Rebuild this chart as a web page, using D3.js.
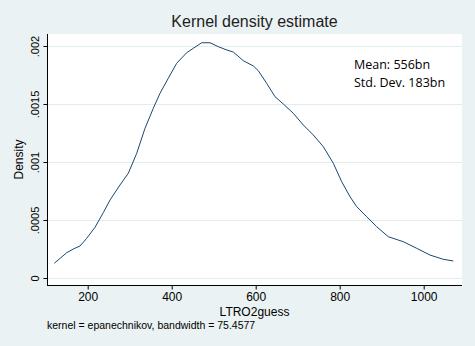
<!DOCTYPE html>
<html>
<head>
<meta charset="utf-8">
<script src="https://cdn.jsdelivr.net/npm/d3@7"></script>
<style>
  html, body { margin: 0; padding: 0; background: #eaf2f3; }
  svg { display: block; }
</style>
</head>
<body>
<svg id="chart" width="475" height="346"></svg>
<script>
// ---- data ----
const densityX = [120.5, 150, 165.7, 181.7, 197.6, 217.4, 237.1, 253.1, 276.9, 296.7, 316.7, 336.4, 356.2, 372.1, 391.9, 411.9, 435.7, 451.4, 471.4, 491.2, 511, 530.9, 546.7, 570.5, 594.3, 606.2, 626.2, 646, 665.7, 689.5, 713.3, 737.1, 761, 784.8, 804.8, 824.5, 840.5, 864.3, 888.1, 915.7, 951.4, 983.3, 1015, 1046.7, 1070.5];
const densityY = [0.000127, 0.000218, 0.00025, 0.000276, 0.000342, 0.000437, 0.000563, 0.000672, 0.000802, 0.000903, 0.001075, 0.00129, 0.001463, 0.001592, 0.001722, 0.001851, 0.001942, 0.00198, 0.002028, 0.002028, 0.001994, 0.001966, 0.001948, 0.001873, 0.001828, 0.001787, 0.001678, 0.001563, 0.0015, 0.00142, 0.001319, 0.001233, 0.001132, 0.000989, 0.00083, 0.000701, 0.000615, 0.000528, 0.000442, 0.000356, 0.000313, 0.000256, 0.000198, 0.000161, 0.000147];
const xTicks = [200, 400, 600, 800, 1000];
const yTicks = [0, 0.0005, 0.001, 0.0015, 0.002];
const yTickLabels = ["0", ".0005", ".001", ".0015", ".002"];
const titleText = "Kernel density estimate";
const xTitle = "LTRO2guess";
const yTitle = "Density";
const noteText = "kernel = epanechnikov, bandwidth = 75.4577";
const annotations = ["Mean: 556bn", "Std. Dev. 183bn"];

// ---- layout ----
const W = 475, H = 346;
const pL = 47, pR = 462, pT = 34, pB = 285;
const svg = d3.select("#chart");
const FONT = "'Liberation Sans', Arial, sans-serif";

svg.append("rect").attr("width", W).attr("height", H).attr("fill", "#eaf2f3");
svg.append("rect").attr("x", pL).attr("y", pT)
   .attr("width", pR - pL).attr("height", pB - pT).attr("fill", "#ffffff");

const x = d3.scaleLinear().domain([103.1, 1091.2]).range([pL, pR]);
const y = d3.scaleLinear().domain([-0.0000603, 0.0021034]).range([pB, pT]);

// grid
svg.append("g").selectAll("line").data(yTicks).join("line")
  .attr("x1", pL).attr("x2", pR)
  .attr("y1", d => Math.round(y(d)) + 0.5).attr("y2", d => Math.round(y(d)) + 0.5)
  .attr("stroke", "#e4ecee").attr("stroke-width", 1);

// y axis
const yAxis = d3.axisLeft(y).tickValues(yTicks).tickSize(4)
  .tickFormat((d, i) => yTickLabels[i]);
const gy = svg.append("g").attr("transform", `translate(${pL + 0.5},0)`).call(yAxis);
gy.select(".domain").attr("d", `M0,${pT}V${pB}`).attr("stroke", "#000");
gy.selectAll(".tick line").attr("stroke", "#000");
gy.selectAll(".tick text")
  .attr("font-family", FONT).attr("font-size", 11).attr("fill", "#000")
  .attr("transform", "rotate(-90)")
  .attr("x", 0).attr("y", -9).attr("dy", 0)
  .attr("text-anchor", "middle");

// x axis
const xAxis = d3.axisBottom(x).tickValues(xTicks).tickSize(4).tickPadding(3).tickFormat(d3.format("d"));
const gx = svg.append("g").attr("transform", `translate(0,${pB + 0.5})`).call(xAxis);
gx.select(".domain").attr("d", `M${pL},0H${pR}`).attr("stroke", "#000");
gx.selectAll(".tick line").attr("stroke", "#000");
gx.selectAll(".tick text").attr("font-family", FONT).attr("font-size", 12).attr("fill", "#000")
  .attr("dy", "0.71em");

// density line
const pts = densityX.map((d, i) => [d, densityY[i]]);
svg.append("path").datum(pts)
  .attr("fill", "none").attr("stroke", "#1a476f").attr("stroke-width", 1)
  .attr("d", d3.line().x(d => x(d[0])).y(d => y(d[1])));

// title
svg.append("text").attr("x", (pL + pR) / 2).attr("y", 27)
  .attr("text-anchor", "middle").attr("font-family", FONT).attr("font-size", 16)
  .attr("fill", "#1e1e1e").text(titleText);

// axis titles
svg.append("text").attr("x", (pL + pR) / 2).attr("y", 315.5)
  .attr("text-anchor", "middle").attr("font-family", FONT).attr("font-size", 12)
  .attr("fill", "#000").text(xTitle);
svg.append("text").attr("transform", `translate(23,${(pT + pB) / 2}) rotate(-90)`)
  .attr("text-anchor", "middle").attr("font-family", FONT).attr("font-size", 12)
  .attr("fill", "#000").text(yTitle);

// note
svg.append("text").attr("x", 47).attr("y", 329)
  .attr("font-family", FONT).attr("font-size", 10.5).attr("fill", "#000").text(noteText);

// annotation
svg.append("g").selectAll("text").data(annotations).join("text")
  .attr("x", 354).attr("y", (d, i) => 69 + i * 18)
  .attr("font-family", "'Open Sans', 'Noto Sans', sans-serif").attr("font-size", 12.5)
  .attr("fill", "#000").text(d => d);
</script>
</body>
</html>
